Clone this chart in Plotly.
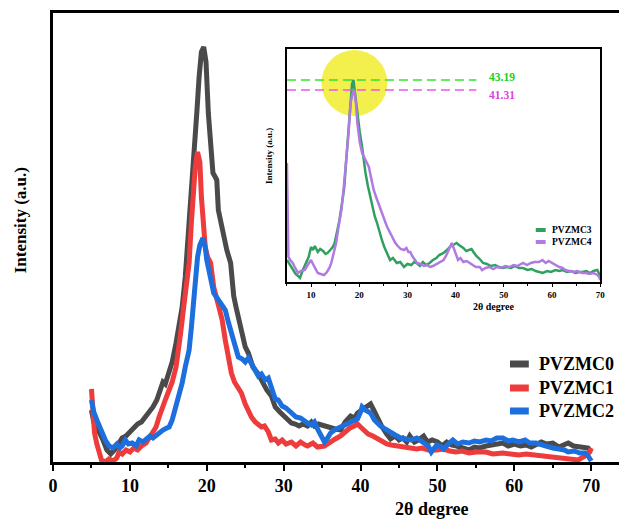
import plotly.graph_objects as go

# ---------------- data (main panel) ----------------
pvzmc0_x = [5.0,5.3,5.6,6.0,6.5,7.0,7.5,8.0,8.5,9.0,9.5,10.0,10.5,11.0,11.5,12.0,12.5,13.0,13.5,14.0,14.3,14.6,15.0,15.5,16.0,16.5,16.8,17.2,17.6,17.9,18.3,18.7,19.0,19.3,19.6,19.9,20.2,20.5,20.8,21.1,21.3,21.5,22.0,22.6,23.1,23.5,23.8,24.2,24.7,25.0,25.4,26.0,26.7,27.2,27.8,28.4,28.9,29.5,30.0,30.5,31.0,31.5,32.0,32.5,33.1,33.6,34.0,34.5,35.3,36.0,36.7,37.4,38.0,38.7,39.2,39.6,40.2,40.8,41.3,41.7,42.2,42.8,43.4,43.9,44.5,45.0,45.5,46.0,46.4,47.0,47.5,48.2,48.7,49.3,50.0,50.6,51.2,51.8,52.5,53.2,54.1,54.8,55.5,56.3,57.0,57.8,58.5,59.2,60.0,60.8,61.5,62.2,62.8,63.5,64.2,65.0,65.8,66.5,67.0,67.7,68.5,69.2,69.6,70.0]
pvzmc0_y = [52,40,36,30,22,12,8,12,18,24,26,30,34,38,40,45,48,55,62,72,80,78,88,100,119,140,155,185,225,265,310,349,385,410,415,400,349,315,289,285,282,252,232,212,199,166,155,140,122,115,109,95,88,80,72,66,55,50,46,42,39,38,36,38,36,40,36,38,36,34,33,32,40,46,44,49,52,56,58,52,43,35,28,23,26,22,24,20,26,20,22,26,20,22,20,16,20,17,16,14,12,15,14,16,17,19,19,16,18,16,17,15,17,20,18,19,15,17,19,16,15,14,14,10]

pvzmc1_x = [5.0,5.2,5.4,5.7,6.0,6.3,6.8,7.3,7.8,8.3,8.6,9.0,9.5,10.0,10.5,11.0,11.5,12.1,12.5,13.0,13.4,13.8,14.2,14.6,15.1,15.5,16.0,16.3,16.6,17.0,17.3,17.7,18.0,18.2,18.5,18.8,19.1,19.3,19.6,19.8,20.1,20.5,20.9,21.5,22.0,22.4,22.8,23.2,23.6,24.0,24.5,25.0,25.4,25.8,26.3,26.7,27.1,27.5,28.0,28.4,28.9,29.3,29.8,30.3,31.0,31.6,32.2,32.8,33.1,33.8,34.4,35.3,36.0,36.7,37.4,38.0,38.6,39.2,39.6,40.0,40.5,41.0,41.6,42.2,42.8,43.4,44.0,44.8,45.5,46.2,47.3,48.0,48.8,49.9,50.8,51.6,52.4,53.2,54.1,55.0,56.3,57.2,58.5,59.5,60.6,61.5,62.8,63.8,65.0,66.0,67.0,68.3,69.2,69.8,70.0]
pvzmc1_y = [73,45,29,18,8,2,0,3,1,4,10,8,12,10,14,12,16,19,24,30,35,45,55,62,72,80,95,110,129,155,175,199,240,265,295,310,300,265,235,215,205,199,175,155,142,122,105,89,80,75,69,58,50,45,40,38,35,36,30,22,23,19,22,18,20,16,20,17,16,19,15,16,20,23,26,30,34,36,38,35,31,28,26,23,20,18,17,16,15,14,13,14,12,12,13,11,10,11,9,10,10,8,9,8,7,8,7,6,5,5,4,2,6,10,14]

pvzmc2_x = [5.0,5.3,5.7,6.0,6.4,6.8,7.3,7.8,8.3,8.7,9.0,9.4,9.8,10.3,10.8,11.2,11.7,12.1,12.6,13.0,13.4,13.8,14.3,14.8,15.1,15.5,16.0,16.4,16.8,17.2,17.7,18.0,18.3,18.5,18.8,19.1,19.5,19.8,20.0,20.2,20.6,20.9,21.3,21.8,22.2,22.4,22.8,23.2,23.6,24.1,24.6,25.0,25.4,25.8,26.2,26.7,27.1,27.6,28.0,28.4,28.9,29.3,29.8,30.3,31.0,31.6,32.2,32.8,33.1,33.6,34.0,34.4,34.8,35.3,35.7,36.1,36.6,37.2,37.9,38.5,39.0,39.6,40.0,40.2,40.6,41.0,41.3,41.8,42.3,42.6,43.2,43.9,44.5,45.2,46.0,46.6,47.3,48.2,48.8,49.2,49.9,50.5,50.8,51.4,52.0,52.6,53.3,54.1,54.8,55.5,56.3,57.0,57.7,58.5,59.2,59.8,60.6,61.4,62.0,62.8,63.6,64.3,65.0,65.8,66.5,67.0,67.8,68.5,69.2,69.6,70.0]
pvzmc2_y = [62,50,42,36,29,22,16,14,18,14,16,22,18,19,16,22,20,22,26,24,27,29,32,34,35,42,55,66,79,95,112,135,155,179,205,217,224,215,202,192,180,169,165,159,155,152,140,128,118,105,103,100,104,99,92,86,88,82,84,76,63,62,56,54,49,45,44,40,39,37,40,33,28,20,24,29,32,34,36,38,40,43,50,55,52,50,49,42,38,36,33,29,27,24,23,22,24,20,16,10,17,15,13,18,22,18,20,19,21,20,22,21,24,24,21,22,20,22,19,19,17,16,14,13,12,10,11,9,9,6,1]

# ---------------- data (inset) ----------------
pvzmc3_x = [5.0,5.5,6.2,6.8,7.3,7.7,8.3,8.9,9.5,10.0,10.4,10.8,11.4,11.9,12.5,13.0,13.4,14.0,14.5,14.9,15.4,15.9,16.4,16.9,17.2,17.5,17.8,18.2,18.5,18.8,19.1,19.6,20.1,20.6,21.0,21.3,21.8,22.3,22.8,23.2,23.7,24.2,24.7,25.2,25.8,26.4,27.0,27.8,28.5,29.3,30.0,30.8,31.4,31.9,32.6,33.2,33.9,34.6,35.3,36.0,36.6,37.5,38.2,38.8,39.5,40.2,40.7,41.1,41.6,42.2,42.8,43.3,43.7,44.3,45.0,45.7,46.5,47.3,48.2,49.0,49.8,50.7,51.5,52.3,53.2,54.0,54.9,55.8,56.6,57.4,58.1,59.0,59.8,60.7,61.5,62.2,63.1,64.0,64.9,65.7,66.3,67.1,67.9,68.6,69.4,69.8,70.0]
pvzmc3_y = [22,18,12,8,6,4,12,19,25,35,32,36,30,33,31,28,29,32,35,39,50,62,78,95,115,135,160,185,198,202,190,165,150,135,120,109,96,85,74,66,59,50,42,35,28,22,24,19,20,15,18,17,20,19,16,20,17,19,22,24,27,29,32,35,37,39,37,36,34,31,32,33,30,26,23,19,18,16,17,15,14,15,14,16,14,14,12,13,11,10,9,11,10,12,11,12,10,11,9,10,10,11,9,11,12,8,4]

pvzmc4_x = [5.0,5.1,5.3,5.7,6.2,6.7,7.3,7.9,8.7,9.3,10.0,10.4,10.8,11.4,12.0,12.7,13.3,13.8,14.2,14.7,15.2,15.7,16.3,16.8,17.3,17.8,18.2,18.6,19.0,19.3,19.6,20.1,20.6,21.0,21.5,22.0,22.3,22.6,23.0,23.5,24.0,24.4,24.9,25.4,25.8,26.3,26.9,27.5,28.0,28.6,29.3,29.8,30.2,30.6,31.0,31.5,32.0,32.7,33.4,34.0,34.7,35.3,36.0,36.7,37.5,38.0,38.6,39.2,39.6,40.0,40.5,41.0,41.6,42.3,43.0,43.6,44.2,45.0,45.5,46.2,47.0,47.8,48.6,49.4,50.3,51.2,52.0,52.8,53.5,54.0,54.8,55.6,56.4,57.3,58.0,58.7,59.3,60.0,60.8,61.5,62.2,62.8,63.6,64.4,65.2,66.3,67.0,67.8,68.6,69.4,69.8,70.0]
pvzmc4_y = [119,60,25,22,19,14,9,11,12,17,22,18,14,9,8,7,10,14,19,28,39,55,72,95,119,150,179,188,192,180,159,140,129,125,120,115,108,100,92,85,78,72,66,60,55,50,44,39,36,33,32,34,30,30,26,22,19,18,16,17,15,16,18,20,22,26,32,39,34,28,22,24,20,21,19,17,15,15,12,14,15,13,15,14,16,15,17,16,18,19,17,19,20,20,22,19,21,19,17,15,14,12,11,10,11,9,9,8,9,7,5,2]

main_names = ["PVZMC0", "PVZMC1", "PVZMC2"]
inset_names = ["PVZMC3", "PVZMC4"]
x_ticks = [0, 10, 20, 30, 40, 50, 60, 70]
inset_ticks = [10, 20, 30, 40, 50, 60, 70]

# ---------------- styling ----------------
FONT = "Liberation Serif"
C0, C1, C2 = "#4a4a4a", "#ee3b3b", "#1c6fdc"
C3, C4 = "#2fa060", "#b07ae2"
DASH3, DASH4 = "#2ee62e", "#ee55ee"

PAGE_OFF = 8                      # default HTML body margin
W, H = 627 - PAGE_OFF, 519 - PAGE_OFF
L, T, R, B = 53, 13, 627, 462     # main plot area in reference (page) px
def px(p):
    return (p - L) / (R - L)
def py(p):
    return (B - p) / (B - T)

fig = go.Figure()
for xs, ys, c, n in [(pvzmc0_x, pvzmc0_y, C0, main_names[0]),
                     (pvzmc1_x, pvzmc1_y, C1, main_names[1]),
                     (pvzmc2_x, pvzmc2_y, C2, main_names[2])]:
    fig.add_trace(go.Scatter(x=xs, y=ys, mode="lines", name=n,
                             line=dict(color=c, width=5), showlegend=False,
                             xaxis="x", yaxis="y"))

for xs, ys, c, n in [(pvzmc3_x, pvzmc3_y, C3, inset_names[0]),
                     (pvzmc4_x, pvzmc4_y, C4, inset_names[1])]:
    fig.add_trace(go.Scatter(x=xs, y=ys, mode="lines", name=n,
                             line=dict(color=c, width=2.5), showlegend=False,
                             xaxis="x2", yaxis="y2"))

peak3 = max(pvzmc3_y)
peak4 = max(pvzmc4_y)
dash_end = 44.3
fig.add_trace(go.Scatter(x=[5, dash_end], y=[peak3, peak3], mode="lines",
                         line=dict(color=DASH3, width=1.6, dash="9px,5px"),
                         showlegend=False, xaxis="x2", yaxis="y2"))
fig.add_trace(go.Scatter(x=[5, dash_end], y=[peak4, peak4], mode="lines",
                         line=dict(color=DASH4, width=1.6, dash="9px,5px"),
                         showlegend=False, xaxis="x2", yaxis="y2"))

# yellow highlight circle behind the inset peak
peak_x = pvzmc3_x[pvzmc3_y.index(peak3)]
fig.add_shape(type="circle", xref="x2", yref="y2", xsizemode="pixel", ysizemode="pixel",
              xanchor=peak_x + 0.2, yanchor=peak3 - 3, x0=-33, x1=33, y0=-33, y1=33,
              fillcolor="#f3ef4d", line=dict(width=0), layer="below")

ann = []
ann.append(dict(x=dash_end + 2.2, y=peak3 + 3, xref="x2", yref="y2", text="43.19",
                showarrow=False, xanchor="left", yanchor="middle",
                font=dict(family=FONT, size=11.5, color="#22cc22", weight="bold")))
ann.append(dict(x=dash_end + 2.2, y=peak4 - 5, xref="x2", yref="y2", text="41.31",
                showarrow=False, xanchor="left", yanchor="middle",
                font=dict(family=FONT, size=11.5, color="#dd44dd", weight="bold")))

# axis titles
ann.append(dict(x=px(435), y=py(509), xref="paper", yref="paper", text="2θ degree",
                showarrow=False, xanchor="center", yanchor="middle",
                font=dict(family=FONT, size=18, color="black", weight="bold")))
ann.append(dict(x=px(20), y=py(220), xref="paper", yref="paper", text="Intensity (a.u.)",
                showarrow=False, xanchor="center", yanchor="middle", textangle=-90,
                font=dict(family=FONT, size=17, color="black", weight="bold")))
ann.append(dict(x=px(497), y=py(306), xref="paper", yref="paper", text="2θ degree",
                showarrow=False, xanchor="center", yanchor="middle",
                font=dict(family=FONT, size=10, color="black", weight="bold")))
ann.append(dict(x=px(271), y=py(156), xref="paper", yref="paper", text="Intensity (a.u.)",
                showarrow=False, xanchor="center", yanchor="middle", textangle=-90,
                font=dict(family=FONT, size=9, color="black", weight="bold")))

# legends (drawn manually to match compact spacing)
shapes = []
for name, col, yy in zip(main_names, [C0, C1, C2], [364, 388, 411]):
    shapes.append(dict(type="line", xref="paper", yref="paper", x0=px(514), x1=px(533),
                       y0=py(yy), y1=py(yy), line=dict(color=col, width=7)))
    ann.append(dict(x=px(541), y=py(yy), xref="paper", yref="paper", text=name,
                    showarrow=False, xanchor="left", yanchor="middle",
                    font=dict(family=FONT, size=18, color="black", weight="bold")))
for name, col, yy in zip(inset_names, [C3, C4], [230, 242]):
    shapes.append(dict(type="line", xref="paper", yref="paper", x0=px(540), x1=px(550),
                       y0=py(yy), y1=py(yy), line=dict(color=col, width=4)))
    ann.append(dict(x=px(554), y=py(yy), xref="paper", yref="paper", text=name,
                    showarrow=False, xanchor="left", yanchor="middle",
                    font=dict(family=FONT, size=9.5, color="black", weight="bold")))
for s in shapes:
    fig.add_shape(**s)

x_range_end = (R - L) / ((596 - L) / 70.0)

fig.update_layout(
    width=W, height=H,
    margin=dict(l=L - PAGE_OFF, r=W - (R - PAGE_OFF), t=T - PAGE_OFF,
                b=H - (B - PAGE_OFF), pad=0),
    paper_bgcolor="white", plot_bgcolor="white",
    showlegend=False,
    annotations=ann,
    xaxis=dict(range=[0, x_range_end], tickvals=x_ticks, ticktext=[str(v) for v in x_ticks],
               showline=True, linecolor="black", linewidth=2.5, mirror=True,
               ticks="outside", ticklen=6, tickwidth=2, tickcolor="black",
               minor=dict(ticks="outside", ticklen=3.5, tickwidth=1.5, dtick=5, tick0=0, tickcolor="black"),
               showgrid=False, zeroline=False,
               tickfont=dict(family=FONT, size=18, color="black", weight="bold")),
    yaxis=dict(range=[0, B - T], showline=True, linecolor="black", linewidth=2.5,
               showticklabels=False, ticks="", showgrid=False, zeroline=False),
    xaxis2=dict(domain=[px(289), px(605)], anchor="y2", range=[5, 70],
                tickvals=inset_ticks, ticktext=[str(v) for v in inset_ticks],
                showline=True, linecolor="black", linewidth=1.5, mirror=True,
                ticks="outside", ticklen=3, tickwidth=1, tickcolor="black",
                minor=dict(ticks="outside", ticklen=2, tickwidth=1, dtick=5, tick0=0, tickcolor="black"),
                showgrid=False, zeroline=False,
                tickfont=dict(family=FONT, size=9, color="black", weight="bold")),
    yaxis2=dict(domain=[py(282), py(49)], anchor="x2", range=[0, 233],
                showline=True, linecolor="black", linewidth=1.5, mirror=True,
                showticklabels=False, ticks="", showgrid=False, zeroline=False),
)

fig.write_html("out.html")
